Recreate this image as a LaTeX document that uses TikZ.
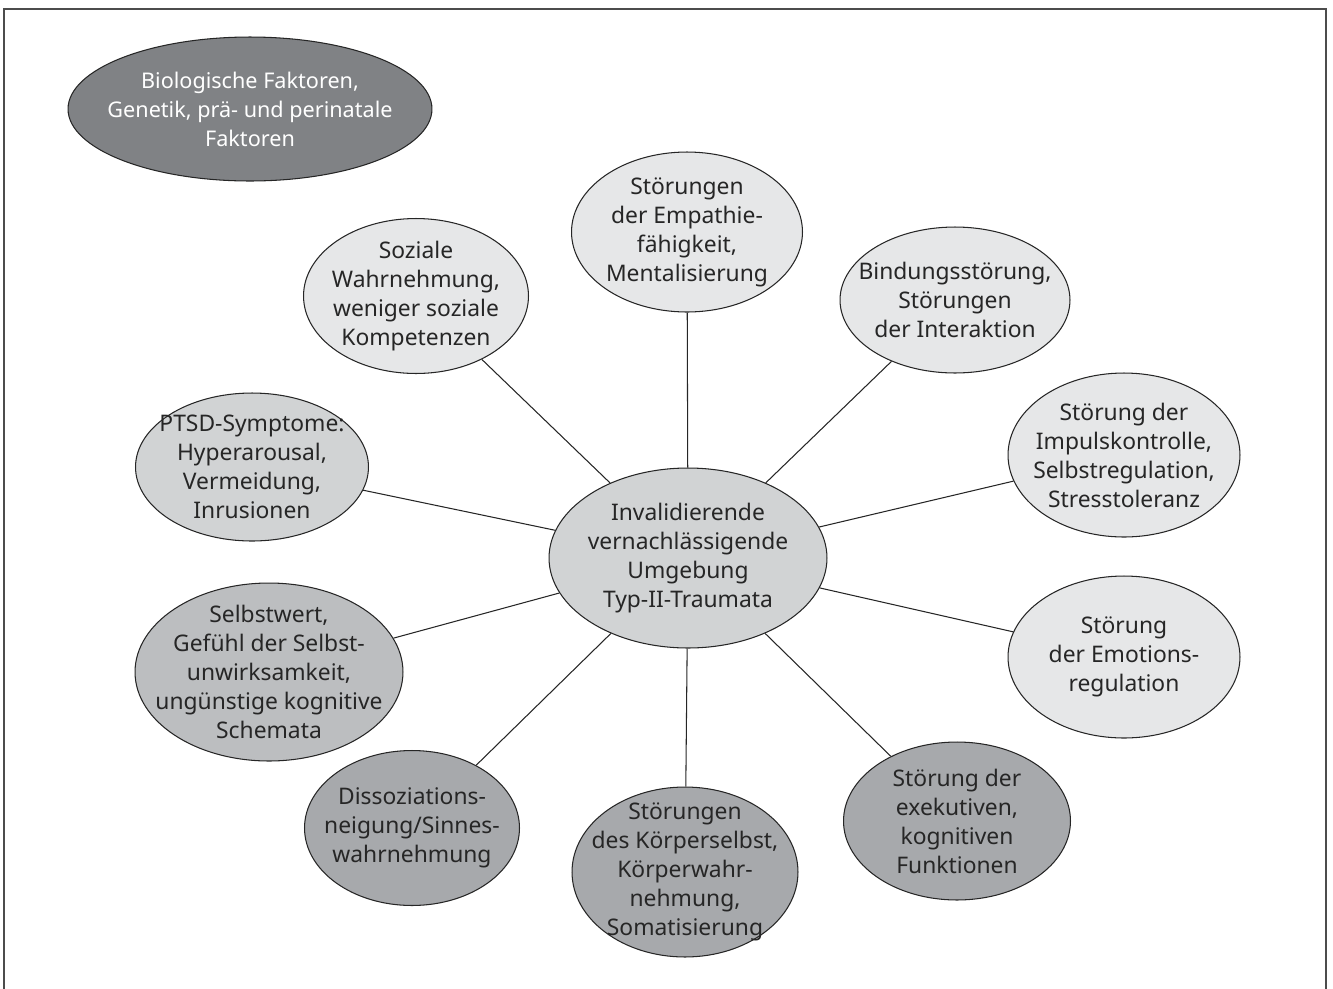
\documentclass[tikz,border=0pt]{standalone}
\usepackage{fontspec}
\setmainfont{Noto Sans}
\usepackage{tikz}
\usetikzlibrary{shapes.geometric, positioning, backgrounds}
\definecolor{grauA}{HTML}{E6E7E8}
\definecolor{grauB}{HTML}{D1D3D4}
\definecolor{grauC}{HTML}{BCBEC0}
\definecolor{grauD}{HTML}{A7A9AC}
\definecolor{grauE}{HTML}{808285}
\tikzset{
	feld/.style={ellipse, draw=black!85, line width=0.6pt, inner sep=-40pt, align=center,
		font=\fontsize{13}{16.5}\selectfont, text=black!85},
	linie/.style={black!85, line width=0.6pt}
}

\begin{document}
\begin{tikzpicture}[x=0.02cm, y=-0.02cm]
		\useasboundingbox (0,0) rectangle (1333,988);
		\draw [black!70, line width=0.6pt] (4,9) rectangle (1326,1000);
		
		\node [feld, fill=grauE, text=white, font=\fontsize{12.3}{16.5}\selectfont, minimum width=7.28cm, minimum height=2.88cm] (bio) at (250,109) {Biologische Faktoren,\\Genetik, prä- und perinatale\\Faktoren};
		
		\node [feld, fill=grauB, minimum width=5.56cm, minimum height=3.6cm] (mitte) at (688,558) {Invalidierende\\vernachlässigende\\Umgebung\\Typ-II-Traumata};
		
		\node [feld, fill=grauA, minimum width=4.62cm, minimum height=3.2cm] (empathie) at (687,232) {Störungen\\der Empathie-\\fähigkeit,\\Mentalisierung};
		\node [feld, fill=grauA, minimum width=4.5cm, minimum height=3.1cm] (sozial) at (416,296) {Soziale\\Wahrnehmung,\\weniger soziale\\Kompetenzen};
		\node [feld, fill=grauA, minimum width=4.6cm, minimum height=2.92cm] (bindung) at (955,300) {Bindungsstörung,\\Störungen\\der Interaktion};
		\node [feld, fill=grauB, minimum width=4.66cm, minimum height=2.96cm] (ptsd) at (252,467) {PTSD-Symptome:\\Hyperarousal,\\Vermeidung,\\Inrusionen};
		\node [feld, fill=grauA, minimum width=4.64cm, minimum height=3.28cm] (impuls) at (1124,455) {Störung der\\Impulskontrolle,\\Selbstregulation,\\Stresstoleranz};
		\node [feld, fill=grauC, minimum width=5.36cm, minimum height=3.56cm] (selbstwert) at (269,672) {Selbstwert,\\Gefühl der Selbst-\\unwirksamkeit,\\ungünstige kognitive\\Schemata};
		\node [feld, fill=grauA, minimum width=4.64cm, minimum height=3.24cm] (emotion) at (1124,657) {Störung\\der Emotions-\\regulation};
		\node [feld, fill=grauD, minimum width=4.3cm, minimum height=3.1cm] (dissoz) at (412,828) {Dissoziations-\\neigung/Sinnes-\\wahrnehmung};
		\node [feld, fill=grauD, minimum width=4.52cm, minimum height=3.4cm] (koerper) at (685,872) {Störungen\\des Körperselbst,\\Körperwahr-\\nehmung,\\Somatisierung};
		\node [feld, fill=grauD, minimum width=4.54cm, minimum height=3.16cm] (exekutiv) at (957,821) {Störung der\\exekutiven,\\kognitiven\\Funktionen};
		
		% Verbindungen zur Mitte
		\begin{scope}[on background layer]
		\foreach \ziel in {empathie, sozial, bindung, ptsd, impuls, selbstwert, emotion, dissoz, koerper, exekutiv}
			\draw [linie] (mitte) -- (\ziel);
		\end{scope}
		
\end{tikzpicture}
\end{document}
